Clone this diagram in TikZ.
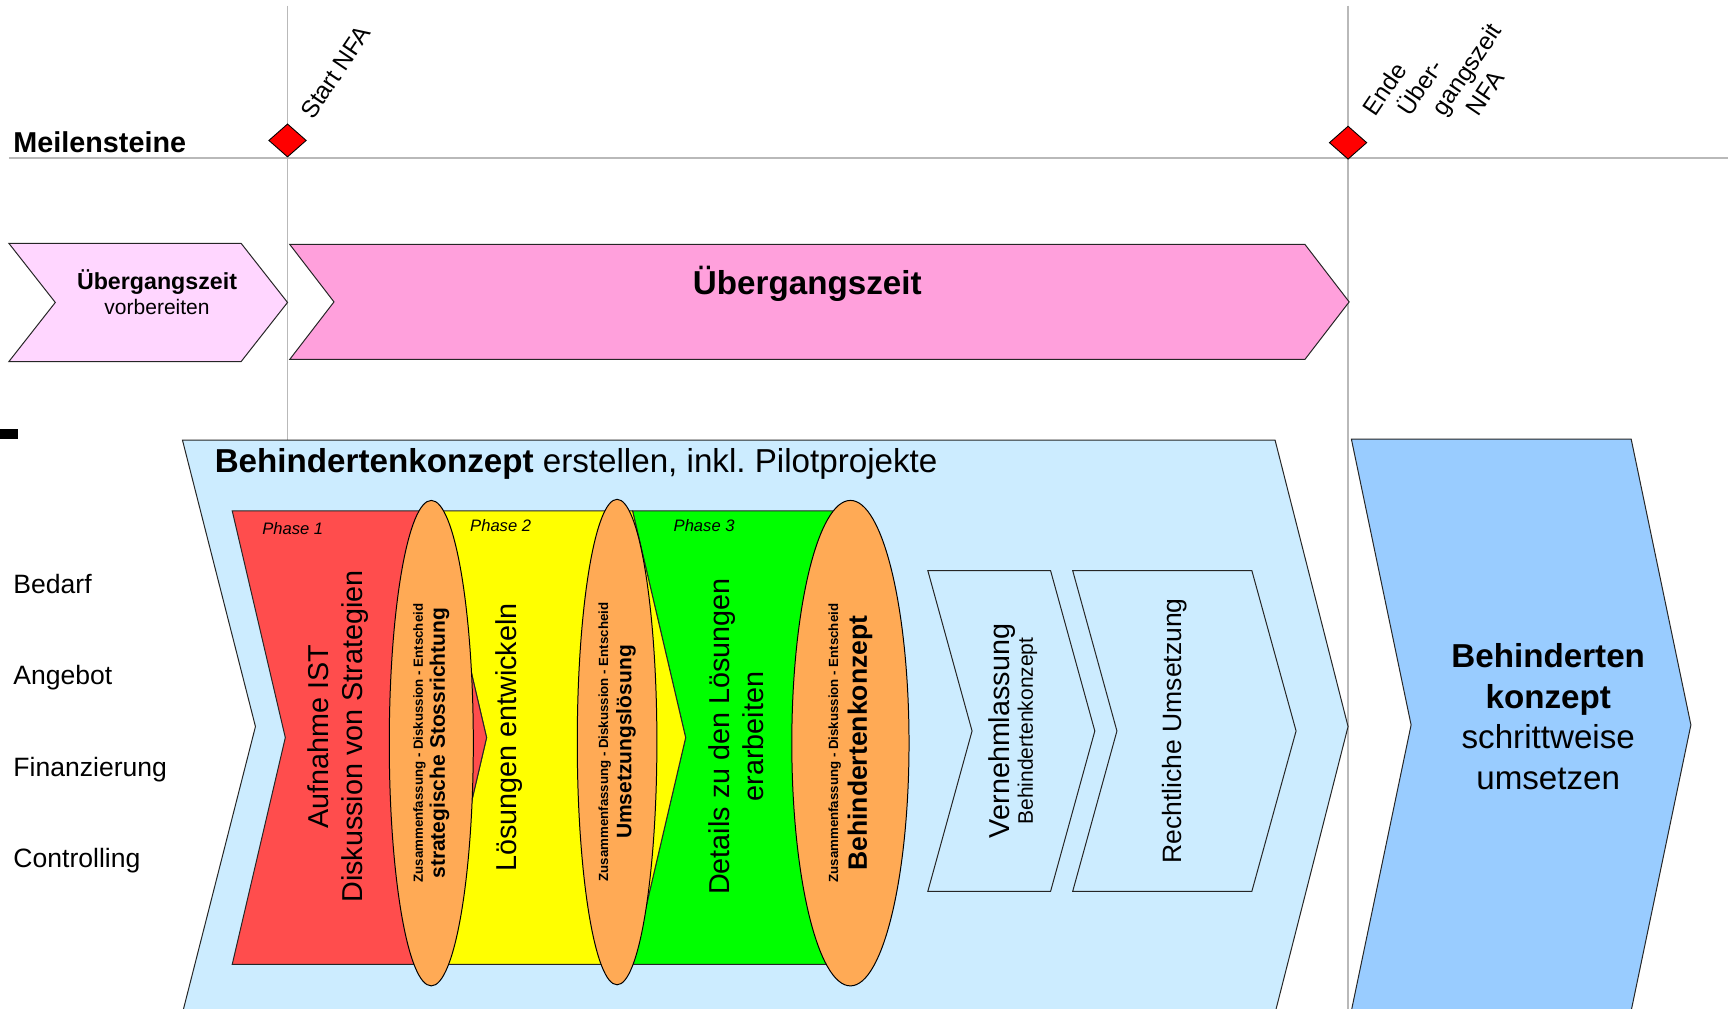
\documentclass[tikz,border=0pt]{standalone}
\usepackage{fontspec}
\setmainfont{Liberation Sans}
\usetikzlibrary{shapes.geometric}

\definecolor{paleRose}{RGB}{255,214,255}
\definecolor{rose}{RGB}{255,160,220}
\definecolor{paleBlue}{RGB}{204,236,255}
\definecolor{midBlue}{RGB}{153,204,255}
\definecolor{phaseRed}{RGB}{255,77,77}
\definecolor{phaseYellow}{RGB}{255,255,0}
\definecolor{phaseGreen}{RGB}{0,255,0}
\definecolor{decision}{RGB}{255,170,85}
\definecolor{gridGrey}{RGB}{185,185,185}

% chevron: style, left x, right x, top y, bottom y, depth of tip
\newcommand{\chevronshape}[6]{%
  \draw[#1] (#2,#4) -- (#3,#4) -- ({#3+#6},{(#4+#5)/2}) -- (#3,#5)
    -- (#2,#5) -- ({#2+#6},{(#4+#5)/2}) -- cycle;}

\begin{document}
\begin{tikzpicture}[x=1pt,y=-1pt]
    \tikzset{outline/.style   = {draw=black!85, line width=0.9pt},
        gridline/.style  = {draw=gridGrey, line width=1.3pt},
        milestone/.style = {diamond, draw=black, fill=red, line width=0.8pt,
            minimum width=34pt, minimum height=30pt, inner sep=0pt},
        mslabel/.style   = {rotate=56, anchor=base west, inner sep=0pt,
            font=\fontsize{22}{26}\selectfont},
        rowlabel/.style  = {anchor=base west, inner sep=0pt,
            font=\fontsize{24}{28}\selectfont},
        phaselabel/.style = {anchor=base west, inner sep=0pt,
            font=\fontsize{15}{18}\selectfont\itshape},
        vtext/.style     = {rotate=90, align=center, inner sep=0pt,
            font=\fontsize{26}{31}\selectfont},
        decide/.style    = {ellipse, draw=black, fill=decision, line width=0.9pt,
            rotate=90, align=center, inner sep=0pt, minimum width=439pt}
        }
    \useasboundingbox (0,0) rectangle (1568,912);

    % Grid of the milestones.
    \coordinate (hLeft) at (8,143);
    \coordinate (hRight) at (1563,143);
    \coordinate (startTop) at (260,5);
    \coordinate (startBot) at (260,398);
    \coordinate (endTop) at (1219,5);
    \coordinate (endBot) at (1219,912);
    \draw[gridline] (hLeft) -- (hRight);
    \draw[gridline] (startTop) -- (startBot);
    \draw[gridline] (endTop) -- (endBot);
    \fill (0,388) rectangle (16,397);

    \node[anchor=base west, inner sep=0pt, font=\fontsize{26}{30}\selectfont\bfseries]
        (meilen) at (12,138) {Meilensteine};
    \node[milestone] (msStart) at (260,127) {};
    \node[milestone] (msEnd) at (1219,129) {};
    \node[mslabel] (startLbl) at (283,109) {Start NFA};
    \foreach \txt [count=\i] in {Ende, Über-, gangszeit, NFA}
        \node[mslabel] (endLbl\i) at ({1244+31*(\i-1)},106) {\txt};

    % Transition period.
    \chevronshape{outline, fill=paleRose}{8}{218}{220}{327}{42}
    \chevronshape{outline, fill=rose}{262}{1180}{221}{325}{40}
    \node[align=center, inner sep=0pt, font=\fontsize{19}{23}\selectfont]
        (prepLbl) at (142,264) {{\fontsize{21}{23}\selectfont\bfseries Übergangszeit}\\vorbereiten};
    \node[anchor=base, inner sep=0pt, font=\fontsize{30}{36}\selectfont\bfseries]
        (transLbl) at (730,266) {Übergangszeit};

    % Concept and rollout.
    \chevronshape{outline, fill=paleBlue}{165}{1153}{398}{916}{66}
    \chevronshape{outline, fill=midBlue}{1222}{1475}{397}{914}{54}
    \node[anchor=base west, inner sep=0pt, font=\fontsize{30}{36}\selectfont]
        (conceptLbl) at (194,427) {\textbf{Behindertenkonzept} erstellen, inkl.\ Pilotprojekte};
    \node[align=center, inner sep=0pt, font=\fontsize{30}{36.5}\selectfont]
        (rolloutLbl) at (1400,648) {\textbf{Behinderten}\\\textbf{konzept}\\schrittweise\\umsetzen};

    \node[rowlabel] (bedarf) at (12,537) {Bedarf};
    \node[rowlabel] (angebot) at (12,619) {Angebot};
    \node[rowlabel] (finanz) at (12,702) {Finanzierung};
    \node[rowlabel] (control) at (12,784) {Controlling};

    % Phases.
    \chevronshape{outline, fill=phaseGreen}{572}{760}{462}{872}{48}
    \chevronshape{outline, fill=phaseYellow}{392}{572}{462}{872}{48}
    \chevronshape{outline, fill=phaseRed}{210}{392}{462}{872}{48}
    \node[phaselabel] (ph1) at (237,483) {Phase 1};
    \node[phaselabel] (ph2) at (425,481) {Phase 2};
    \node[phaselabel] (ph3) at (609,481) {Phase 3};
    \node[vtext] (phase1Txt) at (306,666) {Aufnahme IST\\Diskussion von Strategien};
    \node[vtext] (phase2Txt) at (460,667) {Lösungen entwickeln};
    \node[vtext] (phase3Txt) at (666,666) {Details zu den Lösungen\\erarbeiten};

    \node[decide, minimum height=76pt, font=\fontsize{12}{20}\selectfont\bfseries]
        (decide1) at (390,672) {Zusammenfassung - Diskussion - Entscheid\\{\fontsize{19}{20}\selectfont strategische Stossrichtung}};
    \node[decide, minimum height=72pt, font=\fontsize{12}{21}\selectfont\bfseries]
        (decide2) at (558,671) {Zusammenfassung - Diskussion - Entscheid\\{\fontsize{19}{21}\selectfont Umsetzungslösung}};
    \node[decide, minimum height=106pt, font=\fontsize{12}{26}\selectfont\bfseries]
        (decide3) at (769,672) {Zusammenfassung - Diskussion - Entscheid\\{\fontsize{24}{26}\selectfont Behindertenkonzept}};

    % Consultation and legal steps.
    \chevronshape{outline, fill=paleBlue}{839}{950}{516}{806}{40}
    \chevronshape{outline, fill=paleBlue}{970}{1132}{516}{806}{40}
    \node[vtext, font=\fontsize{26}{21}\selectfont] (consultTxt) at (916,661)
        {Vernehmlassung\\{\fontsize{19}{21}\selectfont Behindertenkonzept}};
    \node[vtext, font=\fontsize{24}{29}\selectfont] (legalTxt) at (1062,661) {Rechtliche Umsetzung};
\end{tikzpicture}
\end{document}
